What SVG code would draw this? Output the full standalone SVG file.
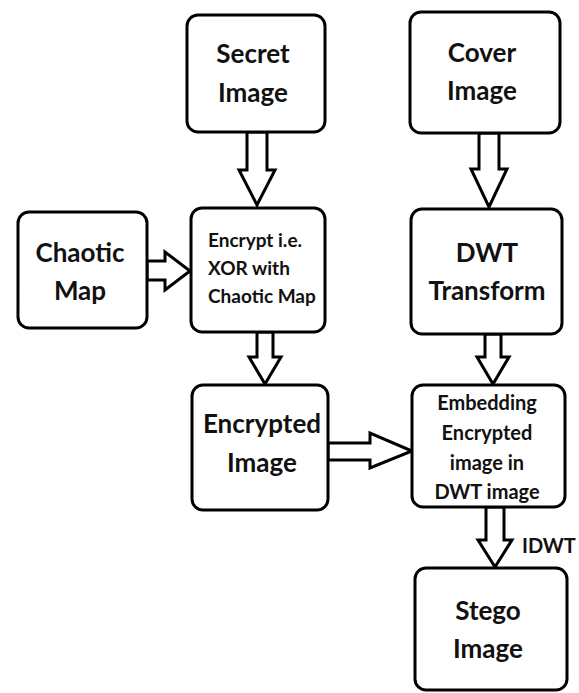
<svg xmlns="http://www.w3.org/2000/svg" width="579" height="693" viewBox="0 0 579 693">
  <style>
    .box { fill: #ffffff; stroke: #000000; stroke-width: 3; }
    .arrow { fill: #ffffff; stroke: #000000; stroke-width: 3; stroke-linejoin: miter; }
    .lbl { font-family: Lato, "Liberation Sans", sans-serif; font-weight: bold; fill: #111111; }
    .big { font-size: 26px; text-anchor: middle; }
    .mid { font-size: 20px; text-anchor: middle; }
    .small { font-size: 19px; }
  </style>
  <rect width="579" height="693" fill="#ffffff"/>

  <!-- connectors: block arrows -->
  <g id="connectors">
    <!-- Secret Image -> Encrypt -->
    <polygon class="arrow" points="247,132 267,132 267,170 275,170 257,205 239,170 247,170"/>
    <!-- Cover Image -> DWT Transform -->
    <polygon class="arrow" points="479,133 499,133 499,169 507,169 489,207 471,169 479,169"/>
    <!-- Chaotic Map -> Encrypt -->
    <polygon class="arrow" points="147,261 165,261 165,252 190,271 165,290 165,280 147,280"/>
    <!-- Encrypt -> Encrypted Image -->
    <polygon class="arrow" points="257,332 273,332 273,357 281,357 265,384 249,357 257,357"/>
    <!-- DWT Transform -> Embedding -->
    <polygon class="arrow" points="485,334 501,334 501,357 509,357 493,384 477,357 485,357"/>
    <!-- Encrypted Image -> Embedding -->
    <polygon class="arrow" points="328,443 370,443 370,433 412,451 370,468 370,460 328,460"/>
    <!-- Embedding -> Stego Image (IDWT) -->
    <polygon class="arrow" points="486,507 504,507 504,540 512,540 495,567 478,540 486,540"/>
    <text class="lbl" x="522" y="553" font-size="20">IDWT</text>
  </g>

  <g id="secret-image">
    <rect class="box" x="187" y="15" width="138" height="117" rx="11"/>
    <text class="lbl big" x="253" y="63">Secret</text>
    <text class="lbl big" x="253" y="102">Image</text>
  </g>

  <g id="cover-image">
    <rect class="box" x="410" y="12" width="150" height="121" rx="11"/>
    <text class="lbl big" x="482" y="62">Cover</text>
    <text class="lbl big" x="482" y="100">Image</text>
  </g>

  <g id="chaotic-map">
    <rect class="box" x="18" y="212" width="129" height="116" rx="11"/>
    <text class="lbl big" x="80" y="262">Chaotic</text>
    <text class="lbl big" x="80" y="300">Map</text>
  </g>

  <g id="encrypt">
    <rect class="box" x="191" y="208" width="134" height="124" rx="11"/>
    <text class="lbl small" x="208" y="247">Encrypt i.e.</text>
    <text class="lbl small" x="208" y="275">XOR with</text>
    <text class="lbl small" x="208" y="303">Chaotic Map</text>
  </g>

  <g id="dwt-transform">
    <rect class="box" x="411" y="209" width="151" height="125" rx="11"/>
    <text class="lbl big" x="487" y="262">DWT</text>
    <text class="lbl big" x="487" y="300">Transform</text>
  </g>

  <g id="encrypted-image">
    <rect class="box" x="192" y="385" width="136" height="125" rx="11"/>
    <text class="lbl big" x="262" y="433">Encrypted</text>
    <text class="lbl big" x="262" y="472">Image</text>
  </g>

  <g id="embedding">
    <rect class="box" x="412" y="385" width="153" height="122" rx="11"/>
    <text class="lbl mid" x="487" y="410">Embedding</text>
    <text class="lbl mid" x="487" y="440">Encrypted</text>
    <text class="lbl mid" x="487" y="470">image in</text>
    <text class="lbl mid" x="487" y="499">DWT image</text>
  </g>

  <g id="stego-image">
    <rect class="box" x="415" y="568" width="152" height="122" rx="11"/>
    <text class="lbl big" x="488" y="620">Stego</text>
    <text class="lbl big" x="488" y="658">Image</text>
  </g>
</svg>
